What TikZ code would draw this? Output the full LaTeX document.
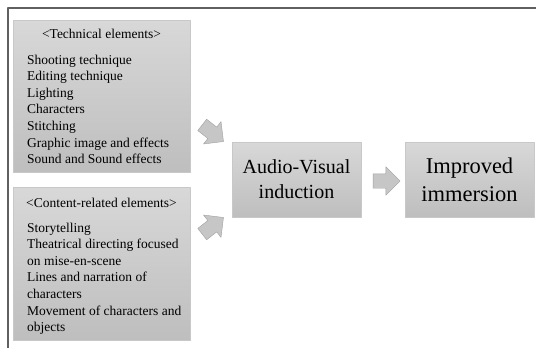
\documentclass[tikz,border=0pt]{standalone}
\usepackage{fontspec}
\setmainfont{Liberation Serif}
\usetikzlibrary{shapes.arrows,calc}
\definecolor{paneltop}{RGB}{216,216,216}
\definecolor{panelbot}{RGB}{190,190,190}
\definecolor{paneledge}{RGB}{200,200,200}
\definecolor{arrowfill}{RGB}{198,198,198}
\definecolor{arrowedge}{RGB}{160,160,160}
\tikzset{
	panel/.style={rectangle,draw=paneledge,top color=paneltop,bottom color=panelbot,minimum width=177pt,inner sep=0pt},
	bigbox/.style={rectangle,draw=paneledge,top color=paneltop,bottom color=panelbot,minimum width=129pt,minimum height=75pt,align=center,inner sep=0pt},
	itemlist/.style={align=left,inner sep=0pt,font=\fontsize{13.5}{16.6}\selectfont},
	headline/.style={inner sep=0pt,font=\fontsize{13.5}{16.6}\selectfont},
	blockarrow/.style={single arrow,draw=arrowedge,fill=arrowfill,minimum height=27pt,single arrow head extend=7pt,inner xsep=0pt,inner ysep=7pt}
}
\begin{document}
\begin{tikzpicture}[x=1pt,y=-1pt,line join=round]
	\useasboundingbox (0,0) rectangle (536,348);
	% frame
	\draw[gray!75!black,line width=1.3pt] (536,8) -- (8,8) -- (8,348);
	% left panels
	\node[panel,minimum height=152pt] (tech) at (101.5,96) {};
	\node[headline,anchor=base] (techhead) at (101.5,38) {<Technical elements>};
	\node[itemlist,anchor=north west] (techlist) at (27,54.5) {Shooting technique\\Editing technique\\Lighting\\Characters\\Stitching\\Graphic image and effects\\Sound and Sound effects};
	\node[panel,minimum height=153pt] (cont) at (101.5,264) {};
	\node[headline,anchor=base] (conthead) at (101.5,207) {<Content-related elements>};
	\node[itemlist,anchor=north west] (contlist) at (27,222.5) {Storytelling\\Theatrical directing focused\\on mise-en-scene\\Lines and narration of\\characters\\Movement of characters and\\objects};
	% right boxes
	\node[bigbox,font=\fontsize{20}{25}\selectfont] (av) at (296.5,179.5) {Audio-Visual\\induction};
	\node[bigbox,font=\fontsize{22.5}{28}\selectfont] (imm) at (469.5,179.5) {Improved\\immersion};
	% block arrows
	\node[blockarrow,rotate=-38] (up) at (210,131) {};
	\node[blockarrow,rotate=38] (down) at (210,228) {};
	\node[blockarrow] (mid) at ($(av.east)!.5!(imm.west)+(0,1.5)$) {};
\end{tikzpicture}
\end{document}
